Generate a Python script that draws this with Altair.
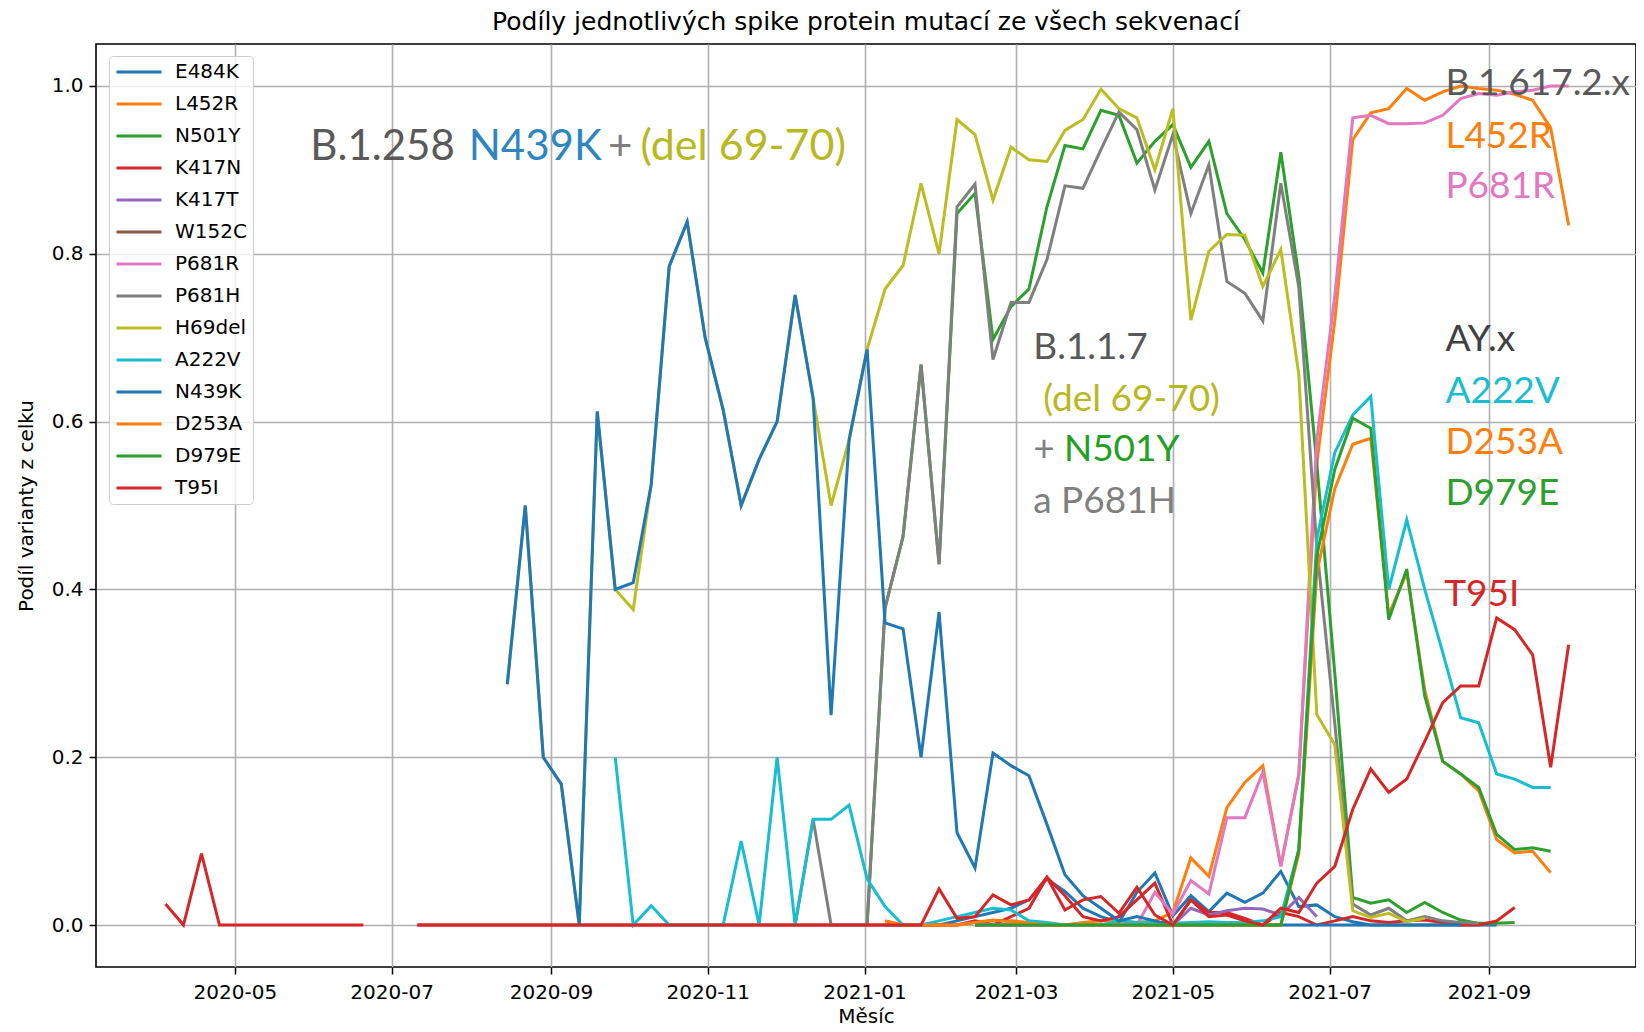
import altair as alt
import pandas as pd

# weekly sampling dates (index 0 = 2020-04-04)
dates = pd.date_range("2020-04-04", periods=79, freq="7D")
date_str = [d.strftime("%Y-%m-%dT00:00:00") for d in dates]

names = ["E484K", "L452R", "N501Y", "K417N", "K417T", "W152C", "P681R",
         "P681H", "H69del", "A222V", "N439K", "D253A", "D979E", "T95I"]
colors = ["#1f77b4", "#ff7f0e", "#2ca02c", "#d62728", "#9467bd", "#8c564b", "#e377c2",
          "#7f7f7f", "#bcbd22", "#17becf", "#1f77b4", "#ff7f0e", "#2ca02c", "#d62728"]

# each series: first week index, then weekly values (None = no data)
E484K_start = 40
E484K = [0.0, 0.0, 0.0, 0.0, 0.005, 0.01, 0.015, 0.02, 0.03, 0.055, 0.04, 0.02, 0.01, 0.003,
         0.039, 0.062, 0.011, 0.035, 0.016, 0.038, 0.027, 0.038, 0.064, 0.022, 0.024, 0.01,
         0.004, 0.0, 0.0, 0.0, 0.0, 0.0, 0.0, 0.0, 0.0]

L452R_start = 40
L452R = [0.005, 0.0, 0.0, 0.0, 0.0, 0.003, 0.005, 0.005, 0.003, 0.0, 0.0, 0.003, 0.005, 0.005,
         0.003, 0.005, 0.015, 0.08, 0.058, 0.14, 0.17, 0.19, 0.07, 0.18, 0.55, 0.72, 0.936,
         0.968, 0.973, 0.997, 0.983, 0.993, 1.0, 0.997, 0.995, 0.99, 0.983, 0.95, 0.834]

N501Y_start = 39
N501Y = [0.0, 0.378, 0.463, 0.668, 0.43, 0.848, 0.872, 0.698, 0.737, 0.758, 0.856, 0.929,
         0.925, 0.971, 0.965, 0.908, 0.934, 0.954, 0.903, 0.934, 0.848, 0.817, 0.777, 0.921,
         0.773, 0.55, 0.30, 0.033, 0.026, 0.03, 0.015, 0.027, 0.015, 0.006, 0.002, 0.002, 0.003]

K417N_start = 14
K417N = [0.0] * 31 + [0.005, 0.0, 0.01, 0.02, 0.057, 0.035, 0.01, 0.005, 0.01, 0.03, 0.05, 0.0,
                      0.03, 0.015, 0.015, 0.008, 0.0, 0.015, 0.01, 0.0, 0.005, 0.01, 0.005,
                      0.003, 0.005, 0.006, 0.003, 0.0, 0.0, 0.005, 0.021]

K417T_start = 45
K417T = [0.0] * 12 + [0.02, 0.012, 0.017, 0.02, 0.019, 0.012, 0.033, 0.01]

W152C_start = 45
W152C = [0.0] * 18

P681R_start = 45
P681R = [0.0] * 10 + [0.039, 0.013, 0.053, 0.037, 0.128, 0.128, 0.182, 0.07, 0.178, 0.578,
                      0.75, 0.962, 0.965, 0.955, 0.955, 0.956, 0.965, 0.985, 0.991, 0.989,
                      0.993, 0.995, 1.0, 1.0]

P681H_start = 35
P681H = [0.0, 0.126, 0.0, 0.0, 0.0, 0.378, 0.463, 0.668, 0.43, 0.856, 0.883, 0.674, 0.742,
         0.742, 0.793, 0.881, 0.878, 0.924, 0.969, 0.948, 0.876, 0.942, 0.848, 0.906, 0.767,
         0.753, 0.72, 0.884, 0.76, 0.45, 0.24, 0.025, 0.012, 0.02, 0.005, 0.01, 0.005, 0.003,
         0.002]

H69del_start = 19
H69del = [0.287, 0.5, 0.2, 0.168, 0.0, 0.612, 0.40, 0.376, 0.525, 0.785, 0.838, 0.70, 0.614,
          0.50, 0.555, 0.60, 0.751, 0.628, 0.50, 0.578, 0.686, 0.758, 0.786, 0.884, 0.80,
          0.96, 0.942, 0.864, 0.927, 0.912, 0.91, 0.947, 0.96, 0.996, 0.973, 0.962, 0.90,
          0.973, 0.721, 0.803, 0.823, 0.822, 0.761, 0.805, 0.656, 0.251, 0.215, 0.017, 0.009,
          0.014, 0.004, 0.008]

A222V_start = 25
A222V = [0.20, 0.0, 0.023, 0.0, 0.0, 0.0, 0.0, 0.10, 0.0, 0.20, 0.0, 0.126, 0.126, 0.143,
         0.055, 0.022, 0.0, 0.0, 0.005, 0.01, 0.015, 0.02, 0.018, 0.005, 0.003, 0.0, 0.0, 0.0,
         0.005, 0.003, 0.003, 0.002, 0.003, 0.004, 0.003, 0.003, 0.005, 0.01, 0.09, 0.46,
         0.563, 0.608, 0.63, 0.40, 0.483, 0.40, 0.325, 0.247, 0.241, 0.18, 0.174, 0.164, 0.164]

N439K_start = 19
N439K = [0.287, 0.5, 0.2, 0.168, 0.0, 0.612, 0.40, 0.408, 0.525, 0.785, 0.838, 0.70, 0.614,
         0.50, 0.555, 0.60, 0.751, 0.628, 0.25, 0.578, 0.686, 0.36, 0.353, 0.20, 0.373, 0.11,
         0.068, 0.205, 0.19, 0.178, 0.12, 0.06, 0.035, 0.02, 0.005, 0.01, 0.005] + [0.0] * 17

D253A_start = 40
D253A = [0.005, 0.0, 0.0, 0.0, 0.0, 0.003, 0.006, 0.004, 0.002] + [0.0] * 14 + \
        [0.085, 0.42, 0.52, 0.573, 0.58, 0.37, 0.42, 0.28, 0.195, 0.18, 0.16, 0.102, 0.086,
         0.088, 0.0625]

D979E_start = 45
D979E = [0.0] * 18 + [0.09, 0.44, 0.543, 0.604, 0.592, 0.364, 0.424, 0.273, 0.195, 0.18,
                      0.164, 0.108, 0.09, 0.092, 0.088]

T95I_start = 0
T95I = [0.025, 0.0, 0.085, 0.0, 0.0, 0.0, 0.0, 0.0, 0.0, 0.0, 0.0, 0.0, None, None] + \
       [0.0] * 29 + \
       [0.043, 0.008, 0.01, 0.036, 0.024, 0.03, 0.057, 0.018, 0.03, 0.034, 0.014, 0.045,
        0.012, 0.0, 0.03, 0.01, 0.012, 0.005, 0.0, 0.02, 0.015, 0.05, 0.07, 0.138, 0.186,
        0.158, 0.174, 0.219, 0.265, 0.285, 0.285, 0.366, 0.352, 0.322, 0.188, 0.334]

series_def = [
    ("E484K", E484K_start, E484K), ("L452R", L452R_start, L452R),
    ("N501Y", N501Y_start, N501Y), ("K417N", K417N_start, K417N),
    ("K417T", K417T_start, K417T), ("W152C", W152C_start, W152C),
    ("P681R", P681R_start, P681R), ("P681H", P681H_start, P681H),
    ("H69del", H69del_start, H69del), ("A222V", A222V_start, A222V),
    ("N439K", N439K_start, N439K), ("D253A", D253A_start, D253A),
    ("D979E", D979E_start, D979E), ("T95I", T95I_start, T95I),
]

rows = []
for name, start, vals in series_def:
    seg = 0
    for k, v in enumerate(vals):
        if v is None:
            seg += 1
            continue
        rows.append({"date": date_str[start + k], "value": v, "series": name,
                     "seg": f"{name}_{seg}"})
df = pd.DataFrame(rows)

# annotation texts
ann_label = ["B.1.258", "N439K", "+", "(del 69-70)",
             "B.1.1.7", "(del 69-70)", "+", "N501Y", "a P681H",
             "B.1.617.2.x", "L452R", "P681R", "AY.x", "A222V", "D253A", "D979E", "T95I"]
ann_date = ["2020-05-30T09:00:00", "2020-07-31T00:00:00", "2020-09-23T05:00:00",
            "2020-10-05T20:00:00",
            "2021-03-07T16:00:00", "2021-03-11T13:00:00", "2021-03-07T16:00:00",
            "2021-03-19T14:00:00", "2021-03-07T16:00:00",
            "2021-08-15T01:00:00", "2021-08-15T01:00:00", "2021-08-15T01:00:00",
            "2021-08-15T01:00:00", "2021-08-15T01:00:00", "2021-08-15T01:00:00",
            "2021-08-15T01:00:00", "2021-08-14T14:00:00"]
ann_value = [0.912, 0.912, 0.912, 0.912,
             0.674, 0.613, 0.553, 0.553, 0.491,
             0.989, 0.926, 0.866, 0.684, 0.622, 0.561, 0.501, 0.380]
ann_color = ["#595959", "#2E86C1", "#7f7f7f", "#b8b820",
             "#595959", "#b8b820", "#7f7f7f", "#22a022", "#7f7f7f",
             "#595959", "#ff7f0e", "#e377c2", "#404040", "#17becf", "#ff7f0e", "#2ca02c",
             "#d62728"]
ann_size = [42, 42, 42, 43] + [37] * 13
ann = pd.DataFrame({"date": ann_date, "value": ann_value, "label": ann_label,
                    "fill": ann_color, "fs": ann_size})

FONT = "DejaVu Sans"
tick_vals = [alt.DateTime(year=y, month=m, date=1) for y, m in
             [(2020, 5), (2020, 7), (2020, 9), (2020, 11), (2021, 1), (2021, 3), (2021, 5),
              (2021, 7), (2021, 9)]]

X = alt.X("date:T",
          scale=alt.Scale(domain=[alt.DateTime(year=2020, month=3, date=7, hours=23),
                                  alt.DateTime(year=2021, month=10, date=28, hours=5)]),
          axis=alt.Axis(values=tick_vals, format="%Y-%m", title="Měsíc",
                        labelFlush=False, labelOverlap=False))
Y = alt.Y("value:Q", scale=alt.Scale(domain=[-0.05, 1.05], nice=False, zero=False),
          axis=alt.Axis(values=[0.0, 0.2, 0.4, 0.6, 0.8, 1.0], format=".1f",
                        title="Podíl varianty z celku"))
C = alt.Color("series:N", scale=alt.Scale(domain=names, range=colors),
              legend=alt.Legend(title=None, orient="none", legendX=13, legendY=12,
                                symbolType="stroke", symbolSize=2025, symbolStrokeWidth=3,
                                labelFontSize=20, labelFont=FONT, labelColor="black",
                                rowPadding=12, clipHeight=20, padding=6, labelOffset=12,
                                fillColor="rgba(255,255,255,0.8)", strokeColor="#cccccc",
                                cornerRadius=4, labelLimit=200))

base = alt.Chart(df).mark_line(strokeWidth=3, clip=True).encode(
    x=X, y=Y, color=C, detail="seg:N")
line_layers = [base.transform_filter(alt.datum.series == n) for n in names]

texts = alt.Chart(ann).mark_text(align="left", baseline="alphabetic", font="Lato").encode(
    x=X, y=Y, text="label:N",
    fill=alt.Fill("fill:N", scale=None, legend=None),
    size=alt.Size("fs:Q", scale=None, legend=None))

chart = alt.layer(*line_layers, texts).properties(
    width=1540, height=923,
    padding={"left": 88, "top": 36, "right": 0, "bottom": 57},
    autosize=alt.AutoSizeParams(type="none"),
    title=alt.TitleParams("Podíly jednotlivých spike protein mutací ze všech sekvenací",
                          font=FONT, fontSize=25, fontWeight="normal", color="black",
                          anchor="middle", baseline="alphabetic", offset=16, dy=27),
).configure_view(stroke="black", strokeWidth=1.6).configure_axis(
    labelFont=FONT, labelFontSize=20, labelColor="black",
    titleFont=FONT, titleFontSize=20, titleFontWeight="normal", titleColor="black",
    tickSize=7, tickColor="black", tickWidth=1.5, domain=False,
    grid=True, gridColor="#b0b0b0", gridWidth=1.6, labelPadding=6
).configure_axisX(titlePadding=4, labelPadding=8).configure_axisY(titlePadding=15)

chart.save("out.html", embed_options={"renderer": "svg", "actions": False})
